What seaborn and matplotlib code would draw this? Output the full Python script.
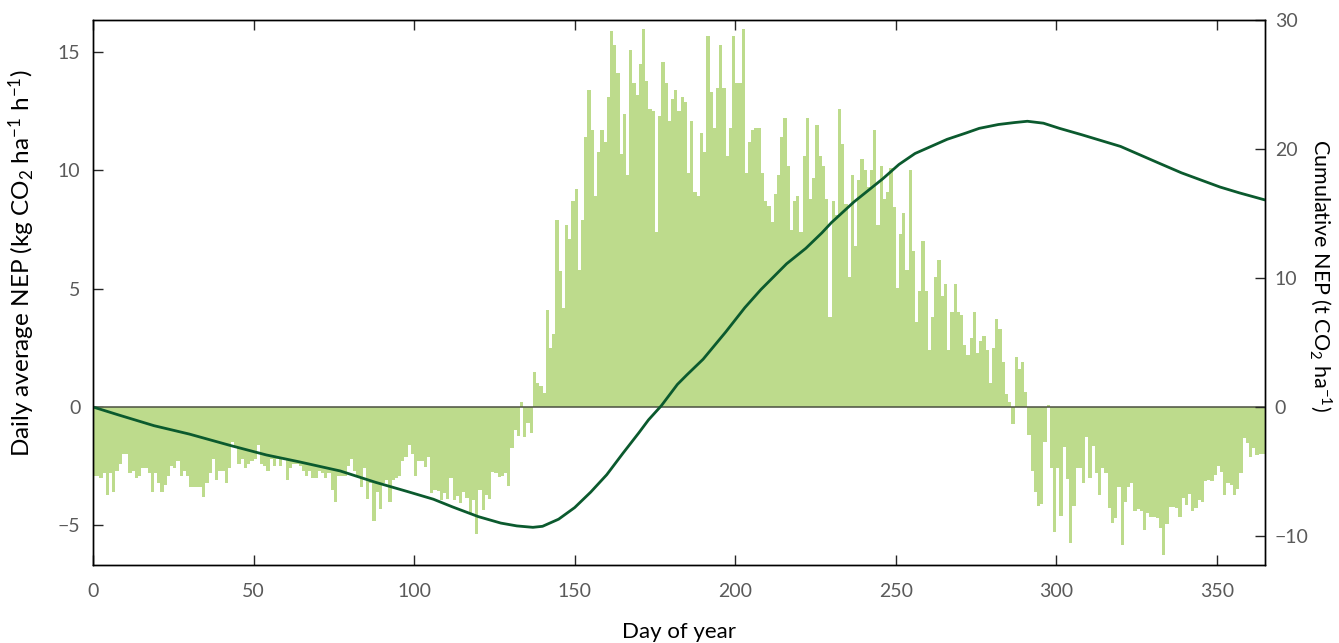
import numpy as np
import pandas as pd
import matplotlib
matplotlib.use("Agg")
import matplotlib.pyplot as plt
import seaborn as sns

# daily average NEP (kg CO2 ha-1 h-1) in blocks of days
nep_001_032 = [-2.9, -2.9, -3.0, -2.8, -3.7, -2.8, -3.6, -2.7, -2.4, -2.0,
               -2.0, -2.8, -2.7, -3.0, -2.9, -2.6, -2.6, -2.8, -3.6, -2.8,
               -3.2, -3.6, -3.3, -2.9, -2.5, -2.6, -2.3, -2.9, -2.7, -2.9,
               -3.4, -3.4]
nep_033_067 = [-3.4, -3.4, -3.8, -3.2, -2.8, -2.2, -3.1, -2.7, -2.7, -3.2,
               -2.6, -1.5, -1.7, -2.4, -2.2, -2.6, -2.4, -2.3, -2.2, -1.6,
               -2.4, -2.5, -2.7, -2.2, -2.5, -2.2, -2.5, -2.2, -3.1, -2.6,
               -2.4, -2.4, -2.5, -2.7, -2.9]
nep_068_101 = [-2.7, -3.0, -3.0, -2.7, -2.8, -3.0, -2.8, -3.5, -4.0, -2.9,
               -2.9, -2.9, -2.5, -2.2, -2.7, -2.9, -3.4, -2.6, -3.9, -3.2,
               -4.8, -3.6, -4.3, -3.2, -3.1, -4.0, -3.1, -3.0, -2.9, -2.3,
               -2.1, -1.6, -2.0, -2.9]
nep_102_137 = [-2.3, -2.3, -2.55, -2.1, -3.64, -3.5, -3.57, -3.95, -3.64, -3.9,
               -3.0, -3.92, -3.75, -4.06, -3.61, -3.85, -4.49, -3.95, -5.36, -3.5,
               -4.35, -3.71, -3.9, -2.73, -2.8, -2.94, -2.9, -2.8, -3.33, -1.74,
               -0.97, -1.22, 0.2, -1.28, -0.69, -1.1]
nep_138_173 = [1.5, 1.0, 0.9, 0.6, 4.1, 2.5, 3.1, 7.9, 5.75, 4.2,
               7.7, 7.1, 8.7, 9.2, 5.8, 7.9, 11.4, 13.4, 11.7, 8.9,
               10.8, 11.7, 11.2, 13.1, 15.9, 15.3, 14.1, 10.7, 12.4, 9.8,
               15.1, 13.7, 13.2, 14.5, 16.0, 13.8]
nep_174_207 = [12.6, 12.5, 7.4, 12.3, 14.6, 13.7, 12.1, 13.0, 13.4, 12.5,
               13.1, 12.9, 9.9, 12.1, 9.1, 8.9, 11.6, 10.8, 15.7, 13.3,
               11.8, 13.5, 15.3, 13.5, 10.6, 11.8, 15.7, 13.7, 13.7, 16.0,
               9.9, 11.2, 11.7, 11.8]
nep_208_242 = [11.8, 9.9, 8.7, 8.5, 7.8, 9.0, 9.8, 11.4, 12.2, 10.2,
               7.5, 8.7, 8.9, 7.4, 10.6, 12.2, 8.8, 9.7, 11.9, 10.6,
               10.2, 8.8, 3.8, 8.7, 8.1, 12.6, 11.1, 8.6, 5.5, 9.8,
               6.8, 9.6, 10.5, 10.0, 9.3]
nep_243_277 = [10.0, 11.7, 7.7, 10.2, 8.8, 9.1, 10.1, 8.45, 5.05, 7.3,
               8.2, 5.8, 10.0, 6.6, 3.6, 4.9, 7.0, 4.9, 2.4, 3.8,
               5.5, 6.2, 4.7, 5.2, 2.4, 4.0, 5.2, 4.0, 3.9, 2.6,
               2.2, 2.9, 4.0, 2.3, 2.8]
nep_278_292 = [3.0, 2.4, 1.0, 2.5, 3.7, 3.3, 1.9, 0.55, 0.2, -0.7,
               2.1, 1.6, 1.9, 0.65, -1.2]
nep_293_329 = [-2.7, -3.6, -4.2, -4.1, -1.5, 0.1, -2.6, -5.3, -2.6, -4.6,
               -1.7, -3.05, -5.75, -4.2, -2.6, -2.6, -3.2, -1.25, -3.0, -1.65,
               -2.8, -3.7, -2.6, -2.8, -4.25, -4.9, -4.7, -3.4, -5.85, -4.0,
               -3.4, -3.2, -4.4, -4.3, -4.4, -5.2, -4.5]
nep_330_365 = [-4.63, -4.63, -4.7, -5.12, -6.27, -4.95, -4.21, -4.21, -4.28, -4.67,
               -3.85, -4.13, -3.68, -4.39, -4.25, -3.92, -4.02, -3.12, -3.08, -3.12,
               -2.87, -2.48, -2.73, -3.74, -3.22, -3.29, -3.71, -3.46, -2.8, -1.32,
               -1.53, -2.1, -1.72, -2.03, -2.0, -2.0]

# cumulative NEP (t CO2 ha-1)
cum_day = [0, 8, 19, 30, 43, 54, 64, 77, 88, 98, 106, 112, 120, 127, 132, 137,
           140, 145, 150, 155, 160, 165, 170, 173, 177, 182, 185, 190, 197, 203,
           208, 216, 222, 227, 230, 237, 242, 246, 251, 256, 261, 266, 272, 276,
           282, 287, 291, 296, 301, 308, 314, 320, 326, 332, 339, 345, 351, 357, 365]
cum_nep = [0.0, -0.62, -1.45, -2.1, -3.0, -3.72, -4.24, -4.96, -5.84, -6.56, -7.15,
           -7.75, -8.5, -9.0, -9.22, -9.33, -9.25, -8.7, -7.8, -6.6, -5.25, -3.6,
           -2.0, -1.0, 0.1, 1.75, 2.5, 3.7, 5.8, 7.7, 9.1, 11.1, 12.3, 13.5, 14.3,
           15.9, 16.9, 17.7, 18.8, 19.65, 20.2, 20.75, 21.25, 21.6, 21.9, 22.05,
           22.15, 22.0, 21.6, 21.1, 20.65, 20.2, 19.55, 18.9, 18.15, 17.6, 17.05,
           16.6, 16.05]

nep = (nep_001_032 + nep_033_067 + nep_068_101 + nep_102_137 + nep_138_173
       + nep_174_207 + nep_208_242 + nep_243_277 + nep_278_292 + nep_293_329
       + nep_330_365)

daily = pd.DataFrame({"day": np.arange(1, len(nep) + 1) - 0.5, "nep": nep})
cum = pd.DataFrame({"day": cum_day, "cum": cum_nep})

sns.set_style("ticks")
plt.rcParams["font.family"] = ["Lato", "DejaVu Sans"]
plt.rcParams["mathtext.fontset"] = "custom"
plt.rcParams["mathtext.rm"] = "Lato"
plt.rcParams["mathtext.it"] = "Lato"

fig = plt.figure(figsize=(13.39, 6.43), dpi=100)
ax = fig.add_axes([93 / 1339, 1 - 565 / 643, 1172 / 1339, 545 / 643])

sns.barplot(data=daily, x="day", y="nep", native_scale=True, width=1,
            color="#bddb8c", saturation=1, errorbar=None, linewidth=0, ax=ax)
ax.axhline(0, color="#4a5040", lw=1.1, zorder=3)

ax2 = ax.twinx()
sns.lineplot(data=cum, x="day", y="cum", color="#0b5a2e", linewidth=2.0, ax=ax2)

ax.set_xlim(0, 365)
ax.set_xticks(range(0, 351, 50))
ax.set_ylim(-6.68, 16.36)
ax.set_yticks([-5, 0, 5, 10, 15])
ax2.set_ylim(-12.25, 30)
ax2.set_yticks([-10, 0, 10, 20, 30])

tick_grey = "#5a5a5a"
ax.tick_params(axis="x", direction="in", length=7, width=1, top=True,
               labelsize=14, labelcolor=tick_grey, pad=13)
ax.tick_params(axis="y", direction="in", length=7, width=1, right=False,
               labelsize=14, labelcolor=tick_grey, pad=9)
ax2.tick_params(axis="y", direction="in", length=7, width=1,
                labelsize=14, labelcolor=tick_grey, pad=7)

for a in (ax, ax2):
    for s in a.spines.values():
        s.set_color("black")
        s.set_linewidth(1.0)

ax.set_xlabel("Day of year", fontsize=16, color="black")
ax.xaxis.set_label_coords(0.5, -0.105)
ax.set_ylabel(r"Daily average NEP (kg CO$_2$ ha$^{-1}$ h$^{-1}$)", fontsize=17.5,
              color="black", va="center")
ax.yaxis.set_label_coords(-0.061, 0.553)
ax2.set_ylabel(r"Cumulative NEP (t CO$_2$ ha$^{-1}$)", fontsize=15.5, color="black",
               rotation=270, va="center")
ax2.yaxis.set_label_coords(1.048, 0.531)

fig.savefig("out.png", dpi=100)
